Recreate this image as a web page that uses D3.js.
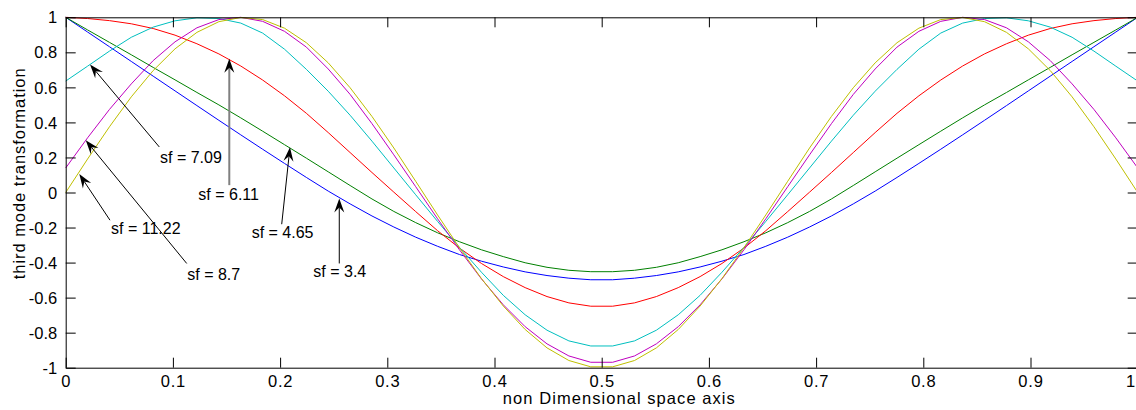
<!DOCTYPE html>
<html>
<head>
<meta charset="utf-8">
<script src="https://cdn.jsdelivr.net/npm/d3@7"></script>
<style>
  html, body { margin: 0; padding: 0; background: #fff; }
  svg { display: block; font-family: "Liberation Sans", Arial, Helvetica, sans-serif; }
</style>
</head>
<body>
<svg id="chart" width="1136" height="410"></svg>
<script>
// Sample positions along the non-dimensional space axis (50 nodes)
const xs = [0, 0.0204, 0.0408, 0.0612, 0.0816, 0.1020, 0.1224, 0.1429, 0.1633, 0.1837,
            0.2041, 0.2245, 0.2449, 0.2653, 0.2857, 0.3061, 0.3265, 0.3469, 0.3673, 0.3878,
            0.4082, 0.4286, 0.4490, 0.4694, 0.4898, 0.5102, 0.5306, 0.5510, 0.5714, 0.5918,
            0.6122, 0.6327, 0.6531, 0.6735, 0.6939, 0.7143, 0.7347, 0.7551, 0.7755, 0.7959,
            0.8163, 0.8367, 0.8571, 0.8776, 0.8980, 0.9184, 0.9388, 0.9592, 0.9796, 1];

// Third mode transformation for each stiffness factor
const sf3_4 = [1.000, 0.916, 0.832, 0.748, 0.664, 0.580, 0.496, 0.412, 0.329, 0.247,
               0.166, 0.086, 0.008, -0.065, -0.134, -0.197, -0.255, -0.307, -0.354, -0.392,
               -0.425, -0.453, -0.474, -0.489, -0.498, -0.498, -0.489, -0.474, -0.453, -0.425,
               -0.392, -0.354, -0.307, -0.255, -0.197, -0.134, -0.065, 0.008, 0.086, 0.166,
               0.247, 0.329, 0.412, 0.496, 0.580, 0.664, 0.748, 0.832, 0.916, 1.000];

const sf4_65 = [1.000, 0.928, 0.857, 0.786, 0.714, 0.643, 0.571, 0.500, 0.426, 0.350,
                0.273, 0.196, 0.118, 0.040, -0.037, -0.108, -0.172, -0.230, -0.281, -0.327,
                -0.366, -0.401, -0.427, -0.444, -0.452, -0.452, -0.444, -0.427, -0.401, -0.366,
                -0.327, -0.281, -0.230, -0.172, -0.108, -0.037, 0.040, 0.118, 0.196, 0.273,
                0.350, 0.426, 0.500, 0.571, 0.643, 0.714, 0.786, 0.857, 0.928, 1.000];

const sf6_11 = [1.000, 0.993, 0.981, 0.963, 0.936, 0.898, 0.849, 0.791, 0.722, 0.642,
                0.552, 0.452, 0.342, 0.228, 0.114, 0.002, -0.109, -0.218, -0.317, -0.405,
                -0.480, -0.543, -0.594, -0.630, -0.649, -0.649, -0.630, -0.594, -0.543, -0.480,
                -0.405, -0.317, -0.218, -0.109, 0.002, 0.114, 0.228, 0.342, 0.452, 0.552,
                0.642, 0.722, 0.791, 0.849, 0.898, 0.936, 0.963, 0.981, 0.993, 1.000];

const sf7_09 = [0.636, 0.721, 0.807, 0.886, 0.944, 0.980, 0.997, 0.993, 0.967, 0.910,
                0.818, 0.703, 0.578, 0.441, 0.293, 0.140, -0.013, -0.165, -0.313, -0.455,
                -0.587, -0.698, -0.786, -0.847, -0.876, -0.876, -0.847, -0.786, -0.698, -0.587,
                -0.455, -0.313, -0.165, -0.013, 0.140, 0.293, 0.441, 0.578, 0.703, 0.818,
                0.910, 0.967, 0.993, 0.997, 0.980, 0.944, 0.886, 0.807, 0.721, 0.636];

const sf8_7 = [0.140, 0.312, 0.474, 0.620, 0.753, 0.860, 0.940, 0.987, 1.000, 0.977,
               0.920, 0.830, 0.705, 0.560, 0.393, 0.215, 0.033, -0.150, -0.327, -0.493,
               -0.641, -0.766, -0.864, -0.933, -0.969, -0.969, -0.933, -0.864, -0.766, -0.641,
               -0.493, -0.327, -0.150, 0.033, 0.215, 0.393, 0.560, 0.705, 0.830, 0.920,
               0.977, 1.000, 0.987, 0.940, 0.860, 0.753, 0.620, 0.474, 0.312, 0.140];

const sf11_22 = [0.000, 0.191, 0.375, 0.546, 0.696, 0.820, 0.914, 0.975, 0.999, 0.987,
                 0.938, 0.855, 0.740, 0.598, 0.434, 0.254, 0.064, -0.128, -0.315, -0.491,
                 -0.648, -0.782, -0.887, -0.959, -0.995, -0.995, -0.959, -0.887, -0.782, -0.648,
                 -0.491, -0.315, -0.128, 0.064, 0.254, 0.434, 0.598, 0.740, 0.855, 0.938,
                 0.987, 0.999, 0.975, 0.914, 0.820, 0.696, 0.546, 0.375, 0.191, 0.000];

const seriesLabels = ["sf = 3.4", "sf = 4.65", "sf = 6.11", "sf = 7.09", "sf = 8.7", "sf = 11.22"];
const seriesValues = [sf3_4, sf4_65, sf6_11, sf7_09, sf8_7, sf11_22];

const xTicks = [0, 0.1, 0.2, 0.3, 0.4, 0.5, 0.6, 0.7, 0.8, 0.9, 1];
const xTickLabels = ["0", "0.1", "0.2", "0.3", "0.4", "0.5", "0.6", "0.7", "0.8", "0.9", "1"];
const yTicks = [-1, -0.8, -0.6, -0.4, -0.2, 0, 0.2, 0.4, 0.6, 0.8, 1];
const yTickLabels = ["-1", "-0.8", "-0.6", "-0.4", "-0.2", "0", "0.2", "0.4", "0.6", "0.8", "1"];

// Callouts in data units: arrow tip (on the curve), arrow tail, label anchor
const calloutLabels = ["sf = 7.09", "sf = 6.11", "sf = 4.65", "sf = 3.4", "sf = 11.22", "sf = 8.7"];
const calloutTips  = [[0.0227, 0.731], [0.1526, 0.764], [0.2092, 0.258], [0.2552, -0.034], [0.0127, 0.105], [0.0187, 0.298]];
const calloutTails = [[0.0873, 0.260], [0.1526, 0.042], [0.2015, -0.181], [0.2552, -0.405], [0.0413, -0.158], [0.1129, -0.405]];
const calloutText  = [[0.0880, 0.168], [0.1237, -0.044], [0.1735, -0.262], [0.2310, -0.485], [0.0423, -0.239], [0.1134, -0.500]];

// ---- drawing ----
const colors = ["#0000ff", "#008000", "#ff0000", "#00bfbf", "#bf00bf", "#bfbf00"];
const svg = d3.select("#chart");
const W = 1136, H = 410;
svg.append("rect").attr("width", W).attr("height", H).attr("fill", "#fff");

const plot = { left: 65.7, right: 1137.7, top: 17.3, bottom: 367.7 };
const x = d3.scaleLinear().domain([0, 1]).range([plot.left, plot.right]);
const y = d3.scaleLinear().domain([-1, 1]).range([plot.bottom, plot.top]);

const tickLen = 10;
const fmtX = d => xTickLabels[xTicks.indexOf(d)];
const fmtY = d => yTickLabels[yTicks.indexOf(d)];

// curves
const line = d3.line().x((d, i) => x(xs[i])).y(d => y(d));
const curves = svg.append("g").attr("fill", "none").attr("stroke-width", 1);
seriesValues.forEach((vals, k) => {
  curves.append("path")
    .datum(vals)
    .attr("d", line)
    .attr("stroke", colors[k])
    .attr("stroke-linejoin", "round")
    .attr("data-name", seriesLabels[k]);
});

// box axes with inward ticks
function styleAxis(g) {
  g.selectAll(".domain").attr("stroke", "#000").attr("stroke-width", 1);
  g.selectAll(".tick line").attr("stroke", "#000").attr("stroke-width", 1);
  g.selectAll("text").attr("fill", "#000").attr("font-size", 16.5)
    .attr("font-family", '"Liberation Sans", Arial, sans-serif');
}
svg.append("g")
  .attr("transform", `translate(0,${plot.bottom})`)
  .call(d3.axisBottom(x).tickValues(xTicks).tickFormat(fmtX)
        .tickSizeInner(-tickLen).tickSizeOuter(0).tickPadding(7.5))
  .call(styleAxis)
  .call(g => g.selectAll("text").attr("letter-spacing", 0.8))
  // the last label sits on the canvas edge; keep it fully inside
  .call(g => g.selectAll(".tick").filter(d => d === 1).select("text")
        .attr("text-anchor", "end").attr("x", W - plot.right - 0.5));
svg.append("g")
  .attr("transform", `translate(0,${plot.top})`)
  .call(d3.axisTop(x).tickValues(xTicks).tickFormat("")
        .tickSizeInner(-tickLen).tickSizeOuter(0))
  .call(styleAxis);
svg.append("g")
  .attr("transform", `translate(${plot.left},0)`)
  .call(d3.axisLeft(y).tickValues(yTicks).tickFormat(fmtY)
        .tickSizeInner(-tickLen).tickSizeOuter(0).tickPadding(8.5))
  .call(styleAxis)
  .call(g => g.selectAll("text").attr("dy", "0.34em"));
svg.append("g")
  .attr("transform", `translate(${plot.right},0)`)
  .call(d3.axisRight(y).tickValues(yTicks).tickFormat("")
        .tickSizeInner(-tickLen).tickSizeOuter(0))
  .call(styleAxis);

// axis titles
svg.append("text")
  .attr("x", 618.8).attr("y", 403.5)
  .attr("text-anchor", "middle")
  .attr("font-size", 16.5)
  .attr("textLength", 232).attr("lengthAdjust", "spacing")
  .text("non Dimensional space axis");
svg.append("text")
  .attr("transform", "translate(24.5,173.8) rotate(-90)")
  .attr("text-anchor", "middle")
  .attr("font-size", 16.5)
  .attr("textLength", 211).attr("lengthAdjust", "spacing")
  .text("third mode transformation");

// callout arrows
const notes = svg.append("g");
calloutLabels.forEach((lab, k) => {
  const tx = x(calloutTips[k][0]), ty = y(calloutTips[k][1]);
  const sx = x(calloutTails[k][0]), sy = y(calloutTails[k][1]);
  const ang = Math.atan2(ty - sy, tx - sx);
  const headLen = 14, notch = 9, halfW = 5;
  const gray = lab === "sf = 6.11";
  notes.append("line")
    .attr("x1", sx).attr("y1", sy)
    .attr("x2", tx - notch * Math.cos(ang)).attr("y2", ty - notch * Math.sin(ang))
    .attr("stroke", gray ? "#808080" : "#000")
    .attr("stroke-width", gray ? 2 : 1);
  notes.append("path")
    .attr("d", `M0,0L${-headLen},${-halfW}L${-notch},0L${-headLen},${halfW}Z`)
    .attr("transform", `translate(${tx},${ty}) rotate(${ang * 180 / Math.PI})`)
    .attr("fill", "#000");
  notes.append("text")
    .attr("x", x(calloutText[k][0])).attr("y", y(calloutText[k][1]))
    .attr("font-size", 16)
    .attr("fill", "#000")
    .text(lab);
});
</script>
</body>
</html>
